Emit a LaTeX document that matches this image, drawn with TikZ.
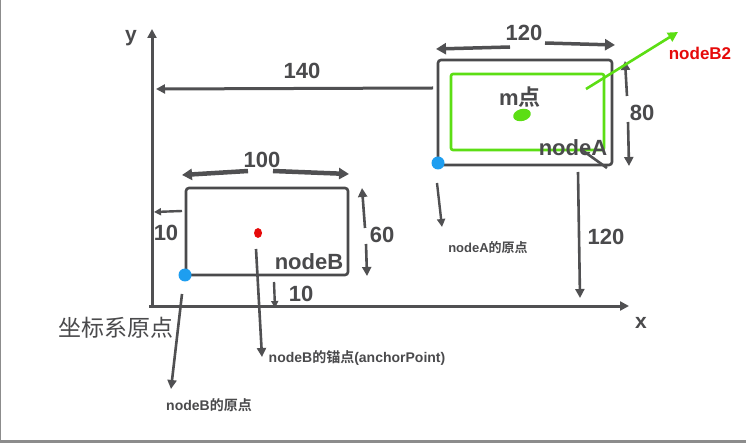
\documentclass[tikz,border=0pt]{standalone}
\usepackage{fontspec}
\setmainfont{Liberation Sans}
\newfontfamily\cjk{Noto Sans CJK SC}[BoldFont={Noto Sans CJK SC Bold}]
\usetikzlibrary{arrows.meta,shapes.geometric}
\definecolor{ink}{RGB}{74,74,76}
\definecolor{dimgray}{RGB}{80,80,82}
\definecolor{grn}{RGB}{92,222,20}
\definecolor{bluedot}{RGB}{30,158,240}
\definecolor{reddot}{RGB}{230,10,10}
\definecolor{frame}{RGB}{140,140,140}
\tikzset{
  lbl/.style={text=ink,font=\fontsize{22}{24}\selectfont\bfseries,inner sep=0pt},
  small/.style={text=ink,font=\fontsize{14}{16}\selectfont\bfseries,inner sep=0pt},
  darr/.style={draw=dimgray,line width=3.5pt,-{Triangle[length=10pt,width=11pt]}},
  tarr/.style={draw=dimgray,line width=2.6pt,-{Triangle[length=9pt,width=9pt]}},
  box/.style={draw=ink,line width=2.6pt,rounded corners=3pt,minimum width=#1,inner sep=0pt},
  dot/.style={circle,fill=bluedot,inner sep=0pt,minimum size=13pt}
}
\begin{document}
\begin{tikzpicture}[x=1pt,y=-1pt]
\useasboundingbox (0,0) rectangle (746,443);
\fill[white] (0,0) rectangle (746,443);
% window frame
\draw[frame,line width=1.2pt] (0.6,0) -- (0.6,440);
\fill[frame] (0,440) rectangle (746,443);

% axes
\coordinate (o) at (152,306);
\coordinate (ytop) at (152,29);
\coordinate (xo) at (149,306);
\coordinate (xend) at (629,306);
\draw[tarr,line width=3pt] (o) -- (ytop);
\draw[tarr,line width=3pt] (xo) -- (xend);
\node[lbl,font=\fontsize{21}{23}\selectfont\bfseries] (ylab) at (131,38) {y};
\node[lbl,font=\fontsize{21}{23}\selectfont\bfseries] (xlab) at (641,323) {x};

% node B
\node[box=162pt,minimum height=87pt] (nodeB) at (267,231.5) {};
\node[dot] (bOrigin) at (185,275) {};
\node[ellipse,fill=reddot,inner sep=0pt,minimum width=8pt,minimum height=10pt] (bAnchor) at (258,233) {};
\node[lbl] (nodeBlab) at (309,262) {nodeB};

% node A
\node[box=174pt,minimum height=105pt] (nodeA) at (525,112.5) {};
\node[draw=grn,line width=2.6pt,rounded corners=2pt,minimum width=153pt,minimum height=76pt,inner sep=0pt] (green) at (527.5,112) {};
\node[dot] (aOrigin) at (438,163) {};
\node[ellipse,fill=grn,inner sep=0pt,minimum width=18pt,minimum height=12pt,rotate=15] (mdot) at (522,115) {};
\node[lbl,font=\fontsize{22}{24}\selectfont\bfseries] (mlab) at (520,97) {m{\cjk 点}};
\node[lbl] (nodeAlab) at (573,148) {nodeA};
\node[text=reddot,font=\fontsize{17}{19}\selectfont\bfseries,inner sep=0pt] (b2lab) at (700,53) {nodeB2};

% 140
\coordinate (p140a) at (433,88);
\coordinate (p140b) at (156,89);
\draw[tarr,line width=3pt] (p140a) -- (p140b);
\node[lbl] (t140) at (302,71) {140};

% 120 top
\coordinate (t120l1) at (510,47);
\coordinate (t120l2) at (436,49);
\coordinate (t120r1) at (545,43);
\coordinate (t120r2) at (615,45);
\draw[darr] (t120l1) -- (t120l2);
\draw[darr] (t120r1) -- (t120r2);
\node[lbl] (t120) at (524,33) {120};

% 100
\coordinate (h100l1) at (248,171);
\coordinate (h100l2) at (182,175);
\coordinate (h100r1) at (273,171);
\coordinate (h100r2) at (349,174);
\draw[darr,line width=4.5pt] (h100l1) -- (h100l2);
\draw[darr,line width=4.5pt] (h100r1) -- (h100r2);
\node[lbl] (t100) at (262,160) {100};

% 10 left
\coordinate (l10a) at (182,211);
\coordinate (l10b) at (154,212);
\draw[tarr,line width=2.4pt,-{Triangle[length=7pt,width=7pt]}] (l10a) -- (l10b);
\node[lbl] (t10l) at (166,233) {10};

% 60
\coordinate (v60u1) at (365,228);
\coordinate (v60u2) at (362,188);
\coordinate (v60d1) at (366,244);
\coordinate (v60d2) at (367,276);
\draw[tarr] (v60u1) -- (v60u2);
\draw[tarr] (v60d1) -- (v60d2);
\node[lbl] (t60) at (382,235) {60};

% 10 bottom
\coordinate (b10a) at (274,282);
\coordinate (b10b) at (275,308);
\draw[tarr,line width=2.4pt,-{Triangle[length=7pt,width=7pt]}] (b10a) -- (b10b);
\node[lbl] (t10b) at (301,294) {10};

% 80
\coordinate (v80u1) at (627,96);
\coordinate (v80u2) at (625,61);
\coordinate (v80d1) at (628,122);
\coordinate (v80d2) at (629,166);
\draw[tarr] (v80u1) -- (v80u2);
\draw[tarr] (v80d1) -- (v80d2);
\node[lbl] (t80) at (642,113) {80};

% 120 right
\coordinate (v120a) at (578,172);
\coordinate (v120b) at (580,298);
\draw[tarr] (v120a) -- (v120b);
\node[lbl] (t120r) at (606,237) {120};

% green arrow to nodeB2
\coordinate (g1) at (586,89);
\coordinate (g2) at (678,32);
\draw[grn,line width=2.6pt,-{Triangle[length=10pt,width=10pt]}] (g1) -- (g2);

% dark stub near nodeA
\coordinate (s1) at (582,150);
\coordinate (s2) at (607,168);
\draw[dimgray,line width=2.6pt] (s1) -- (s2);

% pointers
\coordinate (pa1) at (437,183);
\coordinate (pa2) at (442,227);
\draw[tarr,line width=2.4pt,-{Triangle[length=8pt,width=8pt]}] (pa1) -- (pa2);
\node[small,font=\fontsize{13}{15}\selectfont\bfseries] (aOrlab) at (488,248) {nodeA{\cjk 的原点}};

\coordinate (pb1) at (182,294);
\coordinate (pb2) at (171,389);
\draw[tarr] (pb1) -- (pb2);
\node[small] (bOrlab) at (209,405) {nodeB{\cjk 的原点}};

\coordinate (pc1) at (256,249);
\coordinate (pc2) at (262,357);
\draw[tarr] (pc1) -- (pc2);
\node[small] (bAnlab) at (357,358) {nodeB{\cjk 的锚点}(anchorPoint)};

\node[text=ink,font=\fontsize{23}{25}\selectfont\cjk,inner sep=0pt] (origlab) at (116,328) {坐标系原点};
\end{tikzpicture}
\end{document}
